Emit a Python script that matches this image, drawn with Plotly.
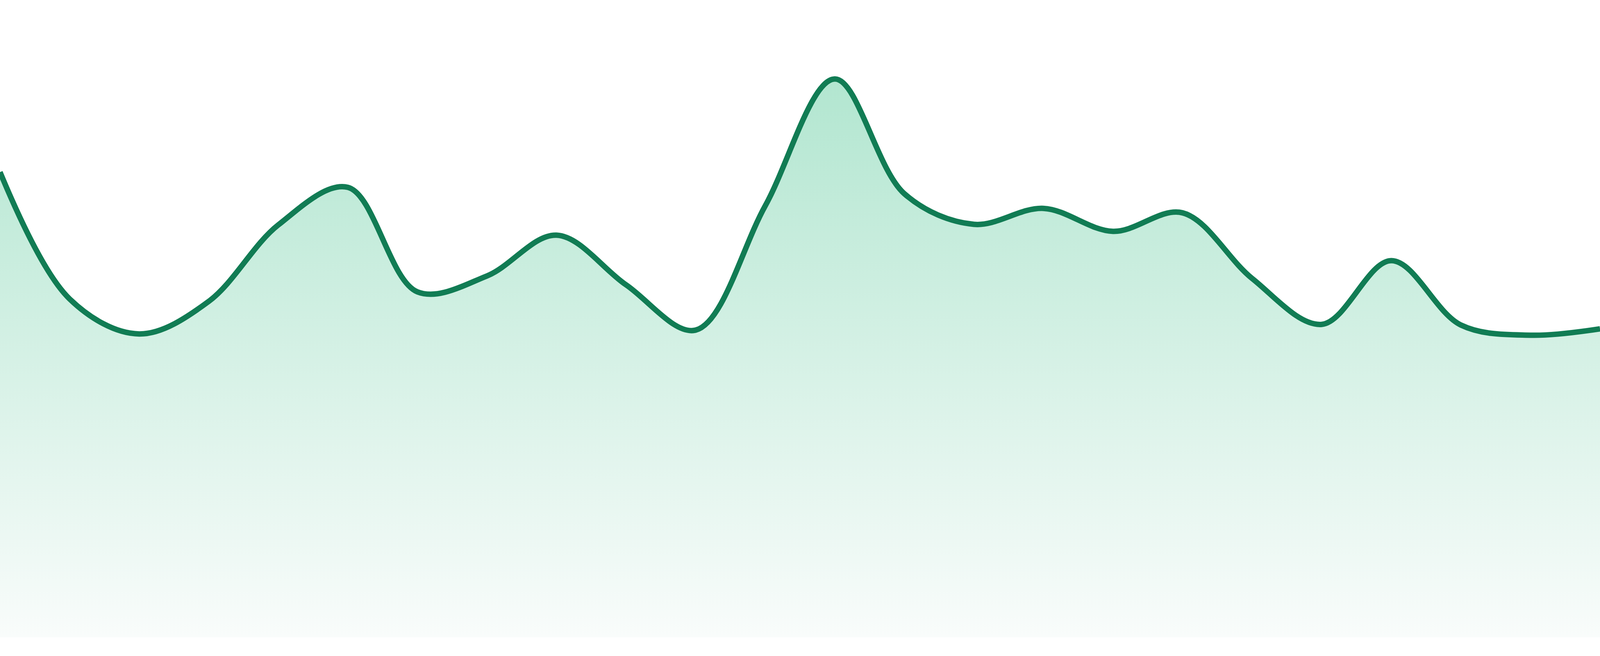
import plotly.graph_objects as go

# one point per period (value axis 0..100)
period = list(range(1, 25))
values = [
    73.0, 53.1, 47.6, 52.7, 64.7, 70.6, 54.2, 56.7,
    63.1, 55.3, 48.2, 67.7, 87.6, 69.6, 64.8, 67.3,
    63.7, 66.6, 56.3, 49.1, 59.1, 49.0, 47.4, 48.4,
]

LINE = "#117c54"
LINE_PX = 14  # stroke width in screen pixels
FILL_TOP = "rgb(178,230,208)"
FILL_BOTTOM = "rgb(249,252,251)"

fig = go.Figure()

fig.add_trace(go.Scatter(
    x=period,
    y=values,
    mode="lines",
    line=dict(color=LINE, width=LINE_PX, shape="spline", smoothing=1.0),
    fill="tozeroy",
    fillgradient=dict(
        type="vertical",
        colorscale=[[0, FILL_BOTTOM], [1, FILL_TOP]],
        start=0,
        stop=max(values),
    ),
    hoverinfo="skip",
    showlegend=False,
))

fig.update_xaxes(range=[period[0], period[-1]], visible=False, fixedrange=True)
# small white strip under the area, as in the reference
fig.update_yaxes(range=[0, 100], domain=[48 / 1680, 1], visible=False, fixedrange=True)

fig.update_layout(
    autosize=True,
    margin=dict(l=0, r=0, t=0, b=0, pad=0),
    paper_bgcolor="white",
    plot_bgcolor="white",
)

# fill the whole window: no body margin, no scrollbars, then refit the plot
# and keep the stroke at LINE_PX screen pixels whatever the pixel ratio is
post = (
    "document.documentElement.style.overflow='hidden';"
    "document.body.style.margin='0';"
    "document.body.style.overflow='hidden';"
    "var gd=document.getElementById('{plot_id}');"
    "var dpr=window.devicePixelRatio||1;"
    "Plotly.restyle(gd,{'line.width':%d/dpr});"
    "Plotly.Plots.resize(gd);" % LINE_PX
)

fig.write_html(
    "out.html",
    config={"displayModeBar": False, "responsive": True},
    default_width="100%",
    default_height="100vh",
    post_script=post,
)
